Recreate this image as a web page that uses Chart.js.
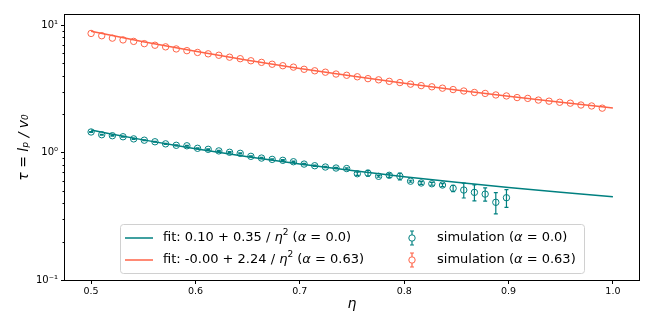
<!DOCTYPE html>
<html>
<head>
<meta charset="utf-8">
<script src="https://cdn.jsdelivr.net/npm/chart.js@4/dist/chart.umd.min.js"></script>
<style>
  html, body { margin: 0; padding: 0; background: #fff; }
  #wrap { width: 654px; height: 327px; }
</style>
</head>
<body>
<div id="wrap"><canvas id="c"></canvas></div>
<script>
// eta grid of the simulations
const etaSim = [0.5000,0.5102,0.5204,0.5306,0.5408,0.5510,0.5612,0.5714,0.5816,0.5918,
  0.6020,0.6122,0.6224,0.6327,0.6429,0.6531,0.6633,0.6735,0.6837,0.6939,
  0.7041,0.7143,0.7245,0.7347,0.7449,0.7551,0.7653,0.7755,0.7857,0.7959,
  0.8061,0.8163,0.8265,0.8367,0.8469,0.8571,0.8673,0.8776,0.8878,0.8980,
  0.9082,0.9184,0.9286,0.9388,0.9490,0.9592,0.9694,0.9796,0.9898];

// alpha = 0.63 (red)
const tauSimRed = [8.60,8.25,7.90,7.65,7.45,7.15,6.95,6.75,6.50,6.30,
  6.10,5.95,5.80,5.60,5.45,5.25,5.10,4.93,4.80,4.68,
  4.50,4.38,4.27,4.13,4.04,3.93,3.80,3.72,3.62,3.54,
  3.44,3.35,3.28,3.20,3.12,3.04,2.96,2.91,2.83,2.78,
  2.70,2.66,2.58,2.53,2.48,2.44,2.36,2.32,2.23];

// alpha = 0.0 (teal), only the first 40 eta values
const tauSimTeal = [1.45,1.38,1.355,1.33,1.28,1.25,1.215,1.17,1.14,1.13,
  1.08,1.06,1.03,1.005,0.986,0.934,0.905,0.884,0.869,0.847,
  0.812,0.788,0.770,0.756,0.749,0.682,0.689,0.651,0.663,0.651,
  0.596,0.577,0.569,0.556,0.524,0.508,0.487,0.472,0.407,0.442];
const errTeal = [0.01,0.01,0.01,0.01,0.01,0.01,0.01,0.01,0.01,0.01,
  0.01,0.01,0.01,0.01,0.01,0.01,0.01,0.01,0.01,0.01,
  0.01,0.01,0.01,0.01,0.01,0.02,0.035,0.01,0.025,0.04,
  0.01,0.015,0.015,0.015,0.03,0.068,0.07,0.056,0.077,0.07];

// fit curves, sampled along the drawn lines
const etaFit = [0.50,0.55,0.60,0.65,0.70,0.75,0.80,0.85,0.90,0.95,1.00];
const tauFitTeal = [1.500,1.257,1.072,0.928,0.814,0.722,0.647,0.584,0.532,0.488,0.450];
const tauFitRed = [8.960,7.405,6.222,5.302,4.571,3.982,3.500,3.100,2.765,2.482,2.240];

// legend numbers
const fitConst = ['0.10', '-0.00'];
const fitCoef = ['0.35', '2.24'];
const alphas = ['0.0', '0.63'];

// ticks
const xTicks = [0.5, 0.6, 0.7, 0.8, 0.9, 1.0];
const yMajor = [0.1, 1, 10];
const yMajorLabels = ['10\u207B\u00B9', '10\u2070', '10\u00B9'];
const yMinor = [0.2,0.3,0.4,0.5,0.6,0.7,0.8,0.9, 2,3,4,5,6,7,8,9];

const TEAL = '#008080';
const TOMATO = '#ff6347';
const FONT = '"DejaVu Sans", sans-serif';

const pts = (xs, ys) => ys.map((y, i) => ({ x: xs[i], y }));

// error bars under the teal markers
const errorBars = {
  id: 'errorBars',
  beforeDatasetsDraw(chart) {
    const { ctx, scales: { x, y } } = chart;
    ctx.save();
    ctx.strokeStyle = TEAL;
    ctx.lineWidth = 1.2;
    tauSimTeal.forEach((v, i) => {
      const px = x.getPixelForValue(etaSim[i]);
      const top = y.getPixelForValue(v + errTeal[i]);
      const bot = y.getPixelForValue(v - errTeal[i]);
      ctx.beginPath();
      ctx.moveTo(px, top); ctx.lineTo(px, bot);
      ctx.moveTo(px - 2, top); ctx.lineTo(px + 2, top);
      ctx.moveTo(px - 2, bot); ctx.lineTo(px + 2, bot);
      ctx.stroke();
    });
    ctx.restore();
  }
};

// frame + minor log ticks
const frame = {
  id: 'frame',
  afterDatasetsDraw(chart) {
    const { ctx, chartArea: ca, scales: { y } } = chart;
    ctx.save();
    ctx.strokeStyle = '#000';
    ctx.lineWidth = 1;
    ctx.strokeRect(ca.left - 0.5, ca.top - 0.5, ca.right - ca.left + 1, ca.bottom - ca.top + 1);
    ctx.beginPath();
    yMinor.forEach(v => {
      const py = Math.round(y.getPixelForValue(v)) + 0.5;
      ctx.moveTo(ca.left - 2.5, py); ctx.lineTo(ca.left, py);
    });
    ctx.stroke();
    ctx.restore();
  }
};

function drawRich(ctx, x, y, segs) {
  for (const s of segs) {
    ctx.font = (s.it ? 'italic ' : '') + (s.sup ? 9 : 13) + 'px ' + FONT;
    ctx.fillText(s.t, x, y + (s.sup ? -5 : 0));
    x += ctx.measureText(s.t).width;
  }
}

const legendBox = {
  id: 'legendBox',
  afterDraw(chart) {
    const { ctx, chartArea: ca } = chart;
    const L = ca.left + 55, T = ca.bottom - 56, W = 464, H = 49;
    ctx.save();
    ctx.fillStyle = 'rgba(255,255,255,0.8)';
    ctx.strokeStyle = '#d0d0d0';
    ctx.lineWidth = 1;
    ctx.beginPath();
    ctx.roundRect(L + 0.5, T + 0.5, W, H, 3);
    ctx.fill(); ctx.stroke();
    ctx.textBaseline = 'middle';
    ctx.fillStyle = '#000';
    const colors = [TEAL, TOMATO];
    [0, 1].forEach(k => {
      const ry = T + 14 + k * 22;
      // fit line sample
      ctx.strokeStyle = colors[k];
      ctx.lineWidth = 1.5;
      ctx.beginPath(); ctx.moveTo(L + 5, ry); ctx.lineTo(L + 33, ry); ctx.stroke();
      drawRich(ctx, L + 43, ry, [
        { t: 'fit: ' + fitConst[k] + ' + ' + fitCoef[k] + ' / ' }, { t: '\u03B7', it: 1 }, { t: '2', sup: 1 },
        { t: ' (' }, { t: '\u03B1', it: 1 }, { t: ' = ' + alphas[k] + ')' }
      ]);
      // errorbar marker sample
      const mx = L + 292;
      ctx.strokeStyle = colors[k];
      ctx.lineWidth = 1.2;
      ctx.beginPath();
      ctx.moveTo(mx, ry - 7); ctx.lineTo(mx, ry + 7);
      ctx.moveTo(mx - 2, ry - 7); ctx.lineTo(mx + 2, ry - 7);
      ctx.moveTo(mx - 2, ry + 7); ctx.lineTo(mx + 2, ry + 7);
      ctx.stroke();
      ctx.fillStyle = '#fff';
      ctx.lineWidth = 1;
      ctx.beginPath(); ctx.arc(mx, ry, 3.2, 0, Math.PI * 2); ctx.fill(); ctx.stroke();
      ctx.fillStyle = '#000';
      drawRich(ctx, L + 317, ry, [
        { t: 'simulation (' }, { t: '\u03B1', it: 1 }, { t: ' = ' + alphas[k] + ')' }
      ]);
    });
    ctx.restore();
  }
};

new Chart(document.getElementById('c'), {
  type: 'scatter',
  data: {
    datasets: [
      { data: pts(etaFit, tauFitTeal), showLine: true, borderColor: TEAL, borderWidth: 1.5,
        pointRadius: 0, cubicInterpolationMode: 'monotone' },
      { data: pts(etaFit, tauFitRed), showLine: true, borderColor: TOMATO, borderWidth: 1.5,
        pointRadius: 0, cubicInterpolationMode: 'monotone' },
      { data: pts(etaSim, tauSimTeal), showLine: false, pointRadius: 3.2, pointBorderWidth: 1,
        pointBorderColor: TEAL, pointBackgroundColor: 'rgba(0,0,0,0)' },
      { data: pts(etaSim, tauSimRed), showLine: false, pointRadius: 3.2, pointBorderWidth: 1,
        pointBorderColor: TOMATO, pointBackgroundColor: 'rgba(0,0,0,0)' }
    ]
  },
  options: {
    responsive: true,
    maintainAspectRatio: false,
    animation: false,
    devicePixelRatio: 1,
    events: [],
    layout: { padding: { top: 15, right: 15, left: 0, bottom: 0 } },
    plugins: { legend: { display: false }, tooltip: { enabled: false } },
    scales: {
      x: {
        type: 'linear', min: 0.475, max: 1.025, bounds: 'data',
        afterBuildTicks: s => { s.ticks = xTicks.map(v => ({ value: v })); },
        afterFit: s => { s.height = 47; },
        ticks: { callback: v => v.toFixed(1), color: '#000', font: { family: FONT, size: 9.5 },
          padding: 2, autoSkip: false, maxRotation: 0 },
        grid: { drawOnChartArea: false, tickLength: 4, tickColor: '#000', tickWidth: 1 },
        border: { display: false },
        title: { display: true, text: '\u03B7', color: '#000',
          font: { family: FONT, size: 14, style: 'italic' }, padding: { top: 0, bottom: 14 } }
      },
      y: {
        type: 'logarithmic', min: 0.1, max: 12, bounds: 'data',
        afterBuildTicks: s => { s.ticks = yMajor.concat(yMinor).map(v => ({ value: v })); },
        afterFit: s => { s.width = 65; },
        ticks: {
          callback: v => { const k = yMajor.indexOf(v); return k >= 0 ? yMajorLabels[k] : ''; },
          color: '#000', font: { family: FONT, size: 10 }, padding: 3, autoSkip: false
        },
        grid: { drawOnChartArea: false, tickLength: 4, tickWidth: 1,
          tickColor: c => yMajor.includes(c.tick && c.tick.value) ? '#000' : 'rgba(0,0,0,0)' },
        border: { display: false },
        title: { display: true, text: '\u03C4 = l\u209A / v\u2080', color: '#000',
          font: { family: FONT, size: 14, style: 'italic' }, padding: { top: 16, bottom: 0 } }
      }
    }
  },
  plugins: [errorBars, frame, legendBox]
});
</script>
</body>
</html>
